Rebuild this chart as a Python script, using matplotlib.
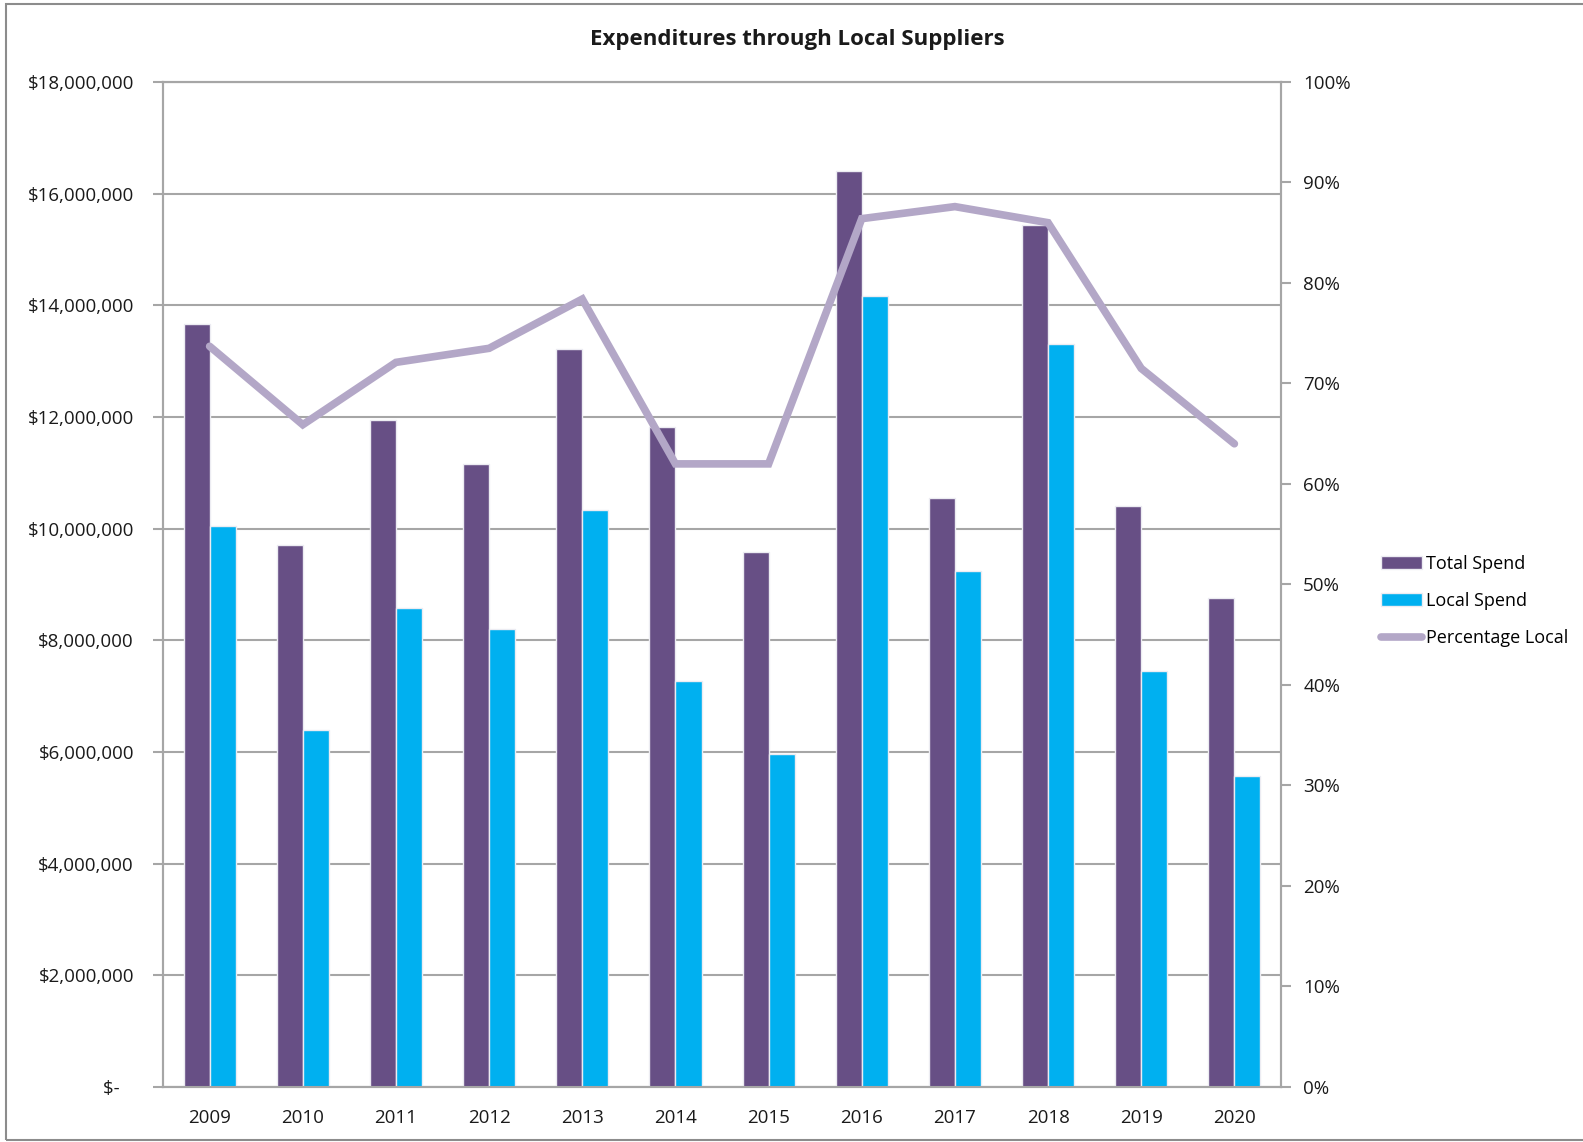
import matplotlib
matplotlib.use("Agg")
import matplotlib.pyplot as plt
import numpy as np
from matplotlib.patches import Rectangle
from matplotlib.ticker import FuncFormatter, MultipleLocator

plt.rcParams['font.family'] = ['Open Sans', 'DejaVu Sans']

years = ["2009", "2010", "2011", "2012", "2013", "2014",
         "2015", "2016", "2017", "2018", "2019", "2020"]
total_spend = [13.66e6, 9.71e6, 11.95e6, 11.15e6, 13.21e6, 11.82e6,
               9.58e6, 16.41e6, 10.55e6, 15.43e6, 10.41e6, 8.75e6]
local_spend = [10.05e6, 6.40e6, 8.58e6, 8.21e6, 10.34e6, 7.28e6,
               5.96e6, 14.17e6, 9.25e6, 13.30e6, 7.45e6, 5.57e6]
pct_local = [73.7, 65.9, 72.1, 73.5, 78.4, 62.0,
             62.0, 86.4, 87.6, 86.0, 71.5, 64.0]

PURPLE = "#674f85"
CYAN = "#00b0f0"
LILAC = "#b3a7c7"
GRID = "#a6a6a6"

fig = plt.figure(figsize=(15.83, 11.42), dpi=100)
# outer chart-area border
fig.patches.append(Rectangle((6 / 1583, 2 / 1142), 1.2, 1 - 6 / 1142,
                             transform=fig.transFigure, fill=False,
                             edgecolor="#8c8c8c", linewidth=1.5, zorder=0))

ax = fig.add_axes([0.1030, 0.0482, 0.7062, 0.8800])
x = np.arange(len(years))
w = 0.28
ax.bar(x - w / 2, total_spend, width=w, color=PURPLE, edgecolor="#ececf2",
       linewidth=1.0, label="Total Spend", zorder=3)
ax.bar(x + w / 2, local_spend, width=w, color=CYAN, edgecolor="#ececf2",
       linewidth=1.0, label="Local Spend", zorder=3)

ax.set_xlim(-0.5, len(years) - 0.5)
ax.set_ylim(0, 18e6)
ax.yaxis.set_major_locator(MultipleLocator(2e6))


def dollars(v, pos):
    if v == 0:
        return "$-   "
    return "${:,.0f}".format(v)


ax.yaxis.set_major_formatter(FuncFormatter(dollars))
ax.set_xticks(x)
ax.set_xticklabels(years)
ax.grid(axis="y", color=GRID, linewidth=1.5, zorder=0)
ax.set_axisbelow(True)
for s in ax.spines.values():
    s.set_color(GRID)
    s.set_linewidth(1.5)
ax.tick_params(axis="y", length=7, width=1.5, color=GRID, pad=14,
               labelsize=13.5, labelcolor="#1a1a1a")
ax.tick_params(axis="x", length=0, pad=16, labelsize=13.5, labelcolor="#1a1a1a")

ax2 = ax.twinx()
ax2.plot(x, pct_local, color=LILAC, linewidth=5.5, solid_capstyle="round",
         solid_joinstyle="miter", label="Percentage Local", zorder=4)
ax2.set_ylim(0, 100)
ax2.yaxis.set_major_locator(MultipleLocator(10))
ax2.yaxis.set_major_formatter(FuncFormatter(lambda v, p: "{:.0f}%".format(v)))
for s in ax2.spines.values():
    s.set_color(GRID)
    s.set_linewidth(1.5)
ax2.tick_params(axis="y", length=7, width=1.5, color=GRID, pad=9,
                labelsize=13.5, labelcolor="#1a1a1a")

fig.text(0.5039, 0.9655, "Expenditures through Local Suppliers",
         ha="center", va="center", fontsize=16, fontweight="bold",
         color="#1a1a1a")

h1, l1 = ax.get_legend_handles_labels()
h2, l2 = ax2.get_legend_handles_labels()
fig.legend(h1 + h2, l1 + l2, loc="center left",
           bbox_to_anchor=(0.862, 0.4737), frameon=False, fontsize=13,
           handlelength=2.3, handleheight=0.7, handletextpad=0.2,
           labelspacing=1.05)

fig.savefig("out.png", dpi=100)
